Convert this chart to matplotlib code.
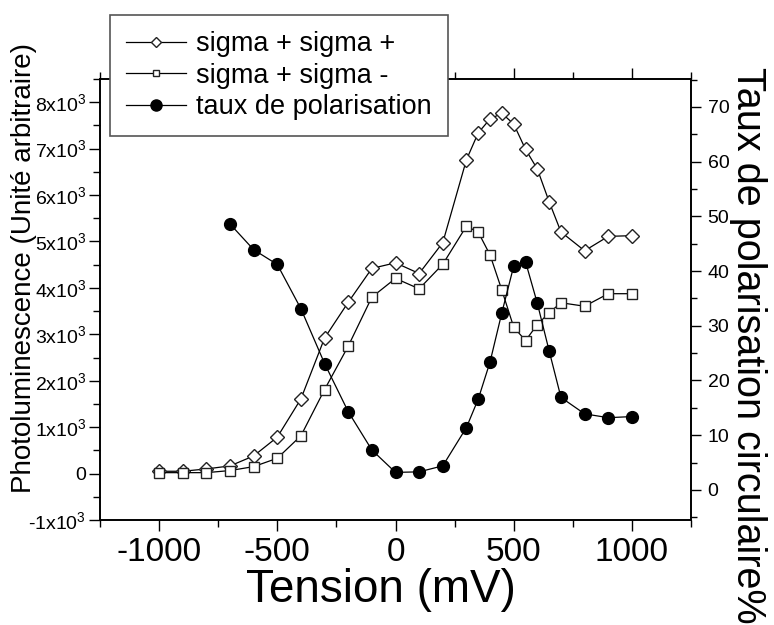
import numpy as np
import matplotlib
matplotlib.use("Agg")
import matplotlib.pyplot as plt
from matplotlib.lines import Line2D
from matplotlib.ticker import MultipleLocator

plt.rcParams['font.family'] = ['Liberation Sans', 'DejaVu Sans']
plt.rcParams['mathtext.fontset'] = 'custom'
plt.rcParams['mathtext.rm'] = 'Liberation Sans'
plt.rcParams['mathtext.default'] = 'regular'
plt.rcParams['axes.unicode_minus'] = False

# tension (mV)
tension = [-1000, -900, -800, -700, -600, -500, -400, -300, -200, -100, 0,
           100, 200, 300, 350, 400, 450, 500, 550, 600, 650, 700, 800, 900, 1000]
# photoluminescence, sigma+ sigma+
pl_plus = [50, 50, 100, 165, 380, 785, 1610, 2920, 3690, 4420, 4540,
           4310, 4975, 6760, 7340, 7640, 7760, 7530, 6985, 6560, 5855, 5205, 4800, 5110, 5125]
# photoluminescence, sigma+ sigma-
pl_minus = [20, 20, 20, 65, 150, 330, 815, 1810, 2745, 3800, 4205,
            3980, 4510, 5330, 5200, 4710, 3950, 3155, 2865, 3210, 3465, 3680, 3605, 3875, 3875]
# taux de polarisation (%), starts at -700 mV
tension_pol = [-700, -600, -500, -400, -300, -200, -100, 0, 100, 200, 300, 350,
               400, 450, 500, 550, 600, 650, 700, 800, 900, 1000]
polar = [48.6, 43.9, 41.2, 33.1, 23.1, 14.3, 7.3, 3.2, 3.3, 4.4, 11.4, 16.6,
         23.4, 32.4, 40.9, 41.7, 34.1, 25.4, 16.9, 13.9, 13.2, 13.4]

labels = ['sigma + sigma +', 'sigma + sigma -', 'taux de polarisation']
left_ticks = [-1000, 0, 1000, 2000, 3000, 4000, 5000, 6000, 7000, 8000]
left_labels = ['-1x10$^3$', '0'] + ['%dx10$^3$' % k for k in range(1, 9)]

fig = plt.figure(figsize=(7.74, 6.25), dpi=100)
ax = fig.add_axes([100/774, 1-520/625, 591/774, 441/625])
ax2 = ax.twinx()

ax.plot(tension, pl_plus, '-', color='black', lw=0.9, marker='D', ms=7,
        mfc='white', mec='#222222', mew=1.0)
ax.plot(tension, pl_minus, '-', color='black', lw=0.9, marker='s', ms=7,
        mfc='white', mec='#222222', mew=1.0)
ax2.plot(tension_pol, polar, '-', color='black', lw=0.9, marker='o', ms=8.5,
         mfc='black', mec='black')

ax.set_xlim(-1250, 1250)
ax.set_ylim(-1000, 8500)
ax2.set_ylim(-5.5, 75.1)

ax.set_xticks([-1000, -500, 0, 500, 1000])
ax.xaxis.set_minor_locator(MultipleLocator(250))
ax.set_yticks(left_ticks)
ax.set_yticklabels(left_labels)
ax.yaxis.set_minor_locator(MultipleLocator(500))
ax2.set_yticks(range(0, 80, 10))
ax2.yaxis.set_minor_locator(MultipleLocator(5))

ax.tick_params(axis='x', which='both', direction='out', top=True, labelsize=24, pad=4)
ax.tick_params(axis='x', which='major', length=8, width=1)
ax.tick_params(axis='x', which='minor', length=5, width=1)
ax.tick_params(axis='y', which='major', length=8, width=1, labelsize=14, pad=2)
ax.tick_params(axis='y', which='minor', length=5, width=1)
ax2.tick_params(axis='y', which='major', length=7, width=1, labelsize=14, pad=5)
ax2.tick_params(axis='y', which='minor', length=4, width=1)

for a in (ax, ax2):
    for s in a.spines.values():
        s.set_linewidth(1.2)

fig.text(381/774, 1-590/625, 'Tension (mV)', fontsize=33, ha='center', va='center')
fig.text(24/774, 1-268/625, 'Photoluminescence (Unité arbitraire)', fontsize=20,
         rotation=90, ha='center', va='center')
fig.text(748/774, 1-345/625, 'Taux de polarisation circulaire%', fontsize=28.5,
         rotation=-90, ha='center', va='center')

# legend handles: smaller open markers like the original
handles = [
    Line2D([], [], color='black', lw=0.9, marker='D', ms=5, mfc='white', mec='#222222'),
    Line2D([], [], color='black', lw=0.9, marker='s', ms=5, mfc='white', mec='#222222'),
    Line2D([], [], color='black', lw=0.9, marker='o', ms=8, mfc='black', mec='black'),
]
leg = fig.legend(handles, labels, loc='upper left',
                 bbox_to_anchor=(110/774, 1-15/625), fontsize=19.5,
                 frameon=True, fancybox=False, framealpha=1, edgecolor='#555555',
                 borderpad=0.6, labelspacing=0.2, handlelength=2.2,
                 handletextpad=0.37, borderaxespad=0)
leg.get_frame().set_linewidth(1.2)

fig.savefig('out.png', dpi=100)
